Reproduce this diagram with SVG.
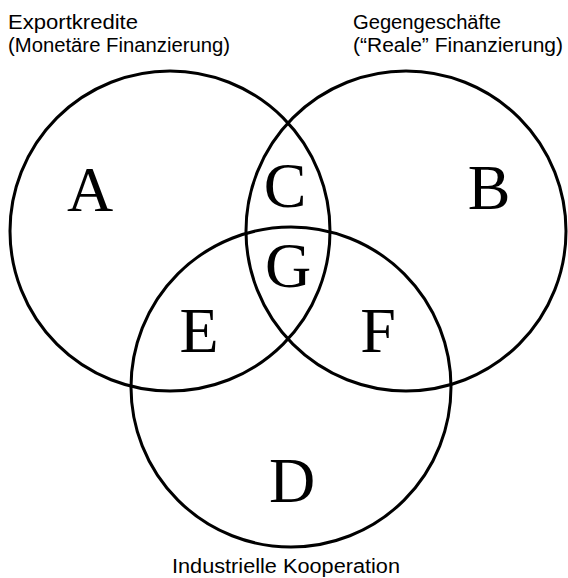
<svg xmlns="http://www.w3.org/2000/svg" width="568" height="578" viewBox="0 0 568 578">
<style>
.c{fill:none;stroke:#000;stroke-width:3}
.l{font-family:"Liberation Serif","Times New Roman",serif;font-size:64px;fill:#000;text-anchor:middle}
.t{font-family:"Liberation Sans",Arial,sans-serif;font-size:20px;fill:#000}
</style>
<rect width="568" height="578" fill="#fff"/>
<g id="circleA"><circle class="c" cx="170" cy="231" r="160"/></g>
<g id="circleB"><circle class="c" cx="406" cy="231" r="160"/></g>
<g id="circleD"><circle class="c" cx="291" cy="387" r="160"/></g>
<g id="labels">
<text class="l" x="90" y="211">A</text>
<text class="l" x="489" y="209">B</text>
<text class="l" x="285" y="207">C</text>
<text class="l" x="288" y="287">G</text>
<text class="l" x="199" y="352">E</text>
<text class="l" x="378" y="352">F</text>
<text class="l" x="292" y="502">D</text>
</g>
<g id="titles">
<text class="t" x="8" y="29" textLength="130" lengthAdjust="spacingAndGlyphs">Exportkredite</text>
<text class="t" x="8" y="52" textLength="222" lengthAdjust="spacingAndGlyphs">(Monetäre Finanzierung)</text>
<text class="t" x="353" y="29" textLength="148" lengthAdjust="spacingAndGlyphs">Gegengeschäfte</text>
<text class="t" x="353" y="52" textLength="210" lengthAdjust="spacingAndGlyphs">(“Reale” Finanzierung)</text>
<text class="t" x="172" y="573" textLength="228" lengthAdjust="spacingAndGlyphs">Industrielle Kooperation</text>
</g>
</svg>
